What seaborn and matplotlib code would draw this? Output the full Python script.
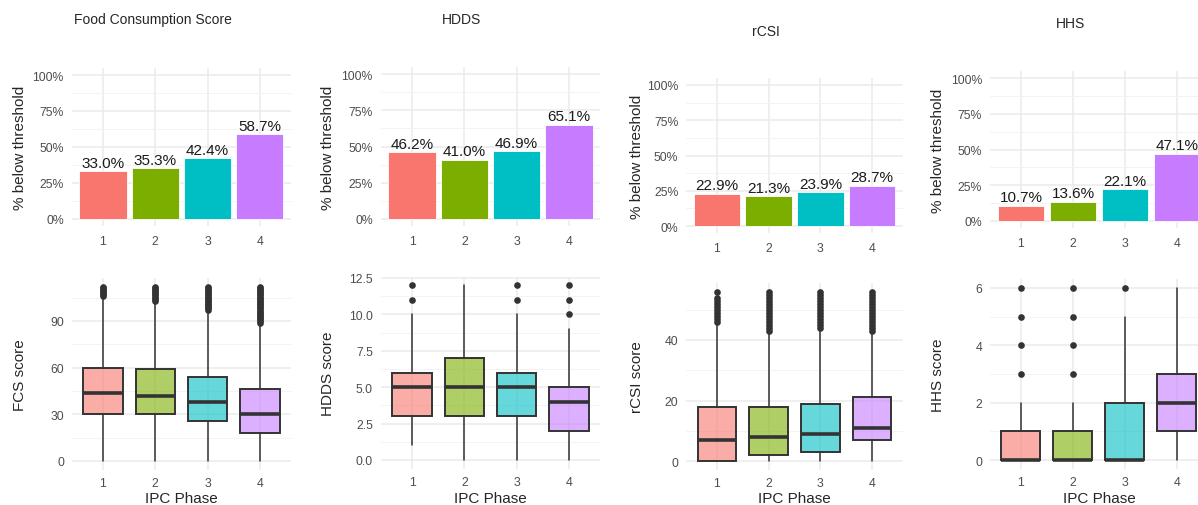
import matplotlib
matplotlib.use("Agg")
import matplotlib.pyplot as plt
import seaborn as sns

sns.set_style("white")
plt.rcParams["font.family"] = ["Liberation Sans", "DejaVu Sans"]

# data
phases = ["1", "2", "3", "4"]
colors = ["#F8766D", "#7CAE00", "#00BFC4", "#C77CFF"]

titles = ["Food Consumption Score", "HDDS", "rCSI", "HHS"]
score_labels = ["FCS score", "HDDS score", "rCSI score", "HHS score"]

# % of households below threshold per IPC phase
pct_fcs = [33.0, 35.3, 42.4, 58.7]
pct_hdds = [46.2, 41.0, 46.9, 65.1]
pct_rcsi = [22.9, 21.3, 23.9, 28.7]
pct_hhs = [10.7, 13.6, 22.1, 47.1]

# boxplot summaries per phase (q1, median, q3, whisker low, whisker high, outliers)
fcs_q1 = [30, 30, 26, 18]
fcs_med = [44, 42, 38, 30]
fcs_q3 = [60, 59, 54, 46]
fcs_lo = [0, 0, 0, 0]
fcs_hi = [105, 102, 96, 88]
fcs_out = [
    [106, 107, 108, 109, 110, 111, 112],
    [103, 104, 105, 106, 107, 108, 109, 110, 111, 112],
    [97, 98, 99, 100, 101, 102, 103, 104, 105, 106, 107, 108, 109, 110, 111, 112],
    [89, 90, 91, 92, 93, 94, 95, 96, 97, 98, 99, 100, 101, 102, 103, 104, 105,
     106, 107, 108, 109, 110, 111, 112],
]

hdds_q1 = [3, 3, 3, 2]
hdds_med = [5, 5, 5, 4]
hdds_q3 = [6, 7, 6, 5]
hdds_lo = [1, 0, 0, 0]
hdds_hi = [10, 12, 10, 9]
hdds_out = [[11, 12], [], [11, 12], [10, 11, 12]]

rcsi_q1 = [0, 2, 3, 7]
rcsi_med = [7, 8, 9, 11]
rcsi_q3 = [18, 18, 19, 21]
rcsi_lo = [0, 0, 0, 0]
rcsi_hi = [45, 42, 43, 42]
rcsi_out = [
    [46, 47, 48, 49, 50, 51, 52, 53, 54, 56],
    [43, 44, 45, 46, 47, 48, 49, 50, 51, 52, 53, 54, 55, 56],
    [44, 45, 46, 47, 48, 49, 50, 51, 52, 53, 54, 55, 56],
    [43, 44, 45, 46, 47, 48, 49, 50, 51, 52, 53, 54, 55, 56],
]

hhs_q1 = [0, 0, 0, 1]
hhs_med = [0, 0, 0, 2]
hhs_q3 = [1, 1, 2, 3]
hhs_lo = [0, 0, 0, 0]
hhs_hi = [2, 2, 5, 6]
hhs_out = [[3, 4, 5, 6], [3, 4, 5, 6], [6], []]

pct_all = [pct_fcs, pct_hdds, pct_rcsi, pct_hhs]
box_all = [
    (fcs_q1, fcs_med, fcs_q3, fcs_lo, fcs_hi, fcs_out),
    (hdds_q1, hdds_med, hdds_q3, hdds_lo, hdds_hi, hdds_out),
    (rcsi_q1, rcsi_med, rcsi_q3, rcsi_lo, rcsi_hi, rcsi_out),
    (hhs_q1, hhs_med, hhs_q3, hhs_lo, hhs_hi, hhs_out),
]
score_ticks = [[0, 30, 60, 90], [0, 2.5, 5, 7.5, 10, 12.5], [0, 20, 40], [0, 2, 4, 6]]
score_minor = [[15, 45, 75, 105], [1.25, 3.75, 6.25, 8.75, 11.25], [10, 30, 50], [1, 3, 5]]
score_fmt = ["{:.0f}", "{:.1f}", "{:.0f}", "{:.0f}"]
score_lims = [(-5.6, 117.6), (-0.6, 12.6), (-2.8, 58.8), (-0.3, 6.3)]

# layout in pixels (x0, y0, x1, y1)
W, H = 1198, 506
top_boxes = [(71.6, 68.8, 291.3, 227.2), (380.6, 67.75, 600.4, 227.25),
             (686, 78.95, 903, 234.05), (989.8, 71.85, 1208.2, 229.15)]
bot_boxes = [(71.6, 279, 291.3, 470.7), (380.6, 277.5, 600.4, 469.7),
             (686, 284.1, 903, 470.5), (989.8, 280.4, 1208.2, 469.6)]
title_pos = [(152.5, 24), (461.7, 24), (766, 36), (1070.5, 28)]
ylab_x = [20, 328.5, 637, 938]

fig = plt.figure(figsize=(W / 100, H / 100), dpi=100)


def add_ax(b):
    x0, y0, x1, y1 = b
    return fig.add_axes([x0 / W, 1 - y1 / H, (x1 - x0) / W, (y1 - y0) / H])


def style(ax):
    for s in ax.spines.values():
        s.set_visible(False)
    ax.set_axisbelow(True)
    ax.grid(which="major", color="#EBEBEB", lw=1.1)
    ax.grid(which="minor", axis="y", color="#F3F3F3", lw=0.7)
    ax.tick_params(which="both", length=0, labelsize=8.8, labelcolor="#4D4D4D", pad=5.5)
    ax.set_xlabel("")
    ax.set_ylabel("")


for i in range(4):
    # top: % below threshold
    ax = add_ax(top_boxes[i])
    sns.barplot(x=phases, y=pct_all[i], hue=phases, palette=colors, legend=False,
                width=0.9, saturation=1, ax=ax, edgecolor="white", linewidth=0.6)
    for c in ax.containers:
        ax.bar_label(c, labels=[f"{v:.1f}%" for v in c.datavalues], padding=1,
                     fontsize=11, color="#1A1A1A")
    ax.set_xlim(-0.6, 3.6)
    ax.set_ylim(-5, 105)
    ax.set_yticks([0, 25, 50, 75, 100])
    ax.set_yticklabels([f"{v}%" for v in [0, 25, 50, 75, 100]])
    ax.set_yticks([12.5, 37.5, 62.5, 87.5], minor=True)
    style(ax)
    ax.tick_params(axis="x", pad=6.5)
    x0, y0, x1, y1 = top_boxes[i]
    fig.text(ylab_x[i] / W, 1 - (y0 + y1) / 2 / H, "% below threshold", rotation=90,
             ha="center", va="center", fontsize=11)
    tx, ty = title_pos[i]
    fig.text(tx / W, 1 - ty / H, titles[i], ha="center", va="baseline", fontsize=10)

    # bottom: score distribution
    ax = add_ax(bot_boxes[i])
    q1, med, q3, lo, hi, out = box_all[i]
    stats = [dict(q1=q1[k], med=med[k], q3=q3[k], whislo=lo[k], whishi=hi[k],
                  fliers=out[k]) for k in range(4)]
    bp = ax.bxp(stats, positions=range(4), widths=0.75, showcaps=False, patch_artist=True,
                boxprops=dict(edgecolor="#333333", lw=1.4),
                whiskerprops=dict(color="#333333", lw=1.1),
                medianprops=dict(color="#333333", lw=2.6),
                flierprops=dict(marker="o", markerfacecolor="#333333",
                                markeredgecolor="none", markersize=4.8))
    for patch, col in zip(bp["boxes"], colors):
        patch.set_facecolor(matplotlib.colors.to_rgba(col, 0.6))
    ax.set_xlim(-0.6, 3.6)
    ax.set_xticks(range(4))
    ax.set_xticklabels(phases)
    ax.set_ylim(*score_lims[i])
    ax.set_yticks(score_ticks[i])
    ax.set_yticklabels([score_fmt[i].format(v) for v in score_ticks[i]])
    ax.set_yticks(score_minor[i], minor=True)
    style(ax)
    x0, y0, x1, y1 = bot_boxes[i]
    fig.text(ylab_x[i] / W, 1 - (y0 + y1) / 2 / H, score_labels[i], rotation=90,
             ha="center", va="center", fontsize=11)
    fig.text((x0 + x1) / 2 / W, 1 - 503 / H, "IPC Phase", ha="center", va="baseline",
             fontsize=11)

fig.savefig("out.png", dpi=100)
